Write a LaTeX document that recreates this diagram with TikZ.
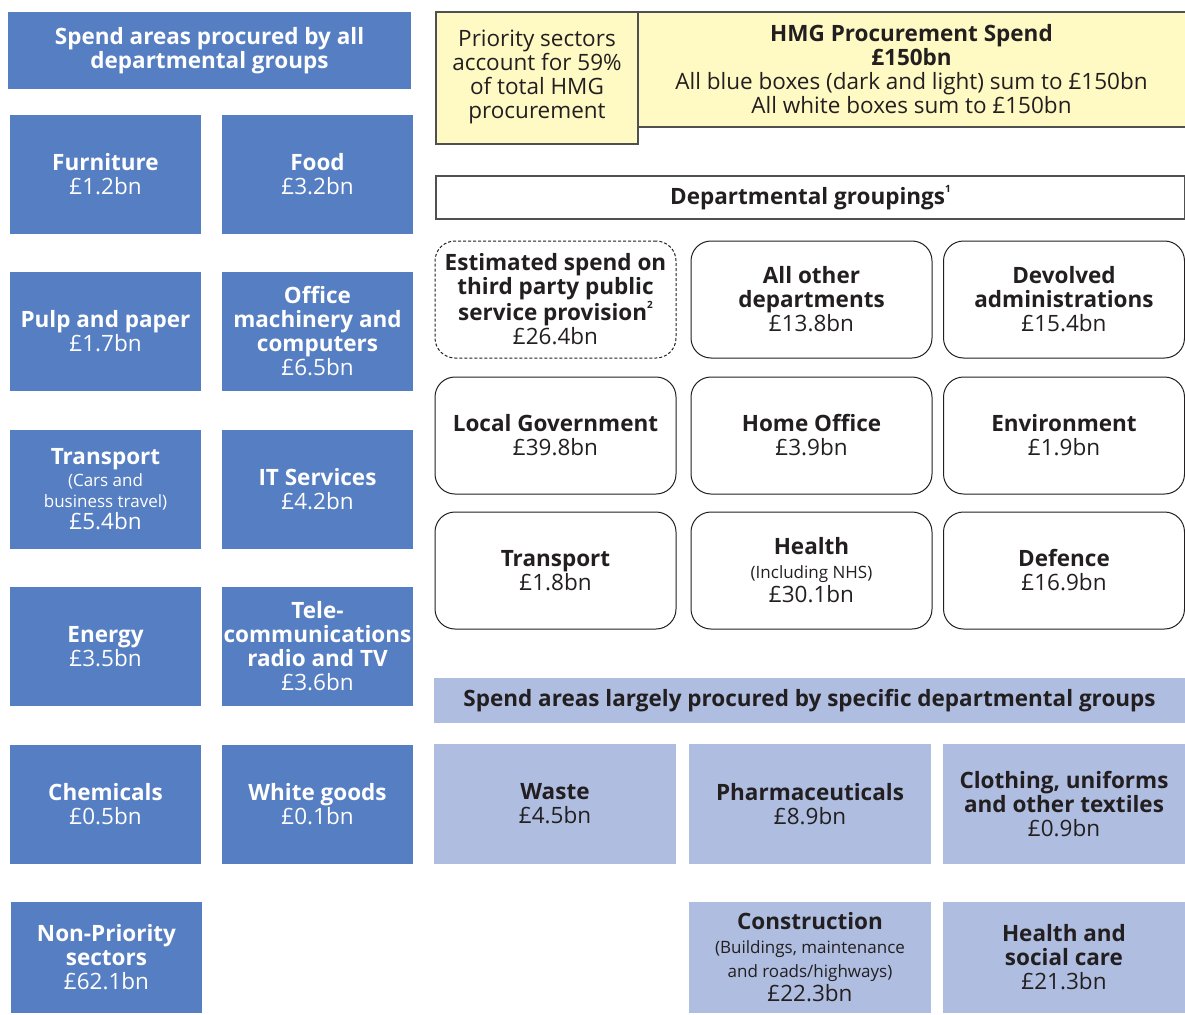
\documentclass[tikz,border=0pt]{standalone}
\usepackage{fontspec}
\setmainfont{Open Sans}
\usetikzlibrary{positioning}
\definecolor{dark-blue}{HTML}{567EC2}
\definecolor{light-blue}{HTML}{AEBDE0}
\definecolor{pale-yellow}{HTML}{FFF9C3}
\definecolor{ink}{HTML}{231F20}
\definecolor{rule-grey}{HTML}{505050}
\newcommand{\sz}{\fontsize{22.5}{24}\selectfont}
\newcommand{\smallsz}{\fontsize{17}{20}\selectfont}
\newcommand{\fnote}[1]{\raisebox{0.55em}{\fontsize{10}{10}\selectfont\textbf{#1}}}

\begin{document}
\begin{tikzpicture}[
  x=1pt, y=-1pt,
  box/.style={inner sep=0pt, align=center, font=\sz},
  darkbox/.style={box, fill=dark-blue, text=white,
    minimum width=191pt, minimum height=119pt},
  lightbox/.style={box, fill=light-blue, text=ink,
    minimum width=242pt, minimum height=120pt},
  deptbox/.style={box, draw=ink, line width=1pt, rounded corners=20pt,
    text=ink, minimum width=241pt, minimum height=117pt},
  dashbox/.style={deptbox, dash pattern=on 3pt off 2pt},
  headbox/.style={box, text=ink},
]
  \useasboundingbox (0,0) rectangle (1185,1014);

  % spend areas procured by all groups
  \node[box, fill=dark-blue, text=white, minimum width=403pt, minimum height=77pt]
    (allhead) at (209.5,50.5) {\textbf{Spend areas procured by all}\\\textbf{departmental groups}};
  \node[darkbox] (furn)  at (105.5,174.5) {\textbf{Furniture}\\£1.2bn};
  \node[darkbox] (food)  at (317.5,174.5) {\textbf{Food}\\£3.2bn};
  \node[darkbox] (pulp)  at (105.5,331.5) {\textbf{Pulp and paper}\\£1.7bn};
  \node[darkbox] (office) at (317.5,331.5) {\textbf{Office}\\\textbf{machinery and}\\\textbf{computers}\\£6.5bn};
  \node[darkbox] (trans) at (105.5,489.5) {\textbf{Transport}\\[-2pt]{\smallsz (Cars and}\\[-3pt]{\smallsz business travel)}\\[-2pt]£5.4bn};
  \node[darkbox] (itserv) at (317.5,489.5) {\textbf{IT Services}\\£4.2bn};
  \node[darkbox] (energy) at (105.5,646.5) {\textbf{Energy}\\£3.5bn};
  \node[darkbox] (telecom) at (317.5,646.5) {\textbf{Tele-}\\\textbf{communications}\\\textbf{radio and TV}\\£3.6bn};
  \node[darkbox] (chem)  at (105.5,804.5) {\textbf{Chemicals}\\£0.5bn};
  \node[darkbox] (white) at (317.5,804.5) {\textbf{White goods}\\£0.1bn};
  \node[darkbox, minimum height=111pt] (nonprio) at (106.5,957.5) {\textbf{Non-Priority}\\\textbf{sectors}\\£62.1bn};

  % HMG total
  \fill[pale-yellow] (436,12) -- (1185,12) -- (1185,127) -- (638,127)
    -- (638,144) -- (436,144) -- cycle;
  \draw[rule-grey, line width=1.5pt] (1185,12) -- (436,12) -- (436,144)
    -- (638,144) -- (638,12);
  \draw[rule-grey, line width=1.5pt] (638,127) -- (1185,127);
  \node[headbox] (prio) at (537,77) {Priority sectors\\account for 59\%\\of total HMG\\procurement};
  \node[headbox] (hmg) at (911.5,69) {\textbf{HMG Procurement Spend}\\\textbf{£150bn}\\All blue boxes (dark and light) sum to £150bn\\All white boxes sum to £150bn};

  % departmental groupings
  \node[box, draw=rule-grey, line width=1.5pt, text=ink, minimum width=749pt, minimum height=43pt]
    (depthead) at (810.5,197.5) {\textbf{Departmental groupings}\fnote{1}};
  \node[dashbox] (third) at (555.5,299.5) {\textbf{Estimated spend on}\\\textbf{third party public}\\\textbf{service provision}\fnote{2}\\£26.4bn};
  \node[deptbox] (other) at (811.5,299.5) {\textbf{All other}\\\textbf{departments}\\£13.8bn};
  \node[deptbox] (devolved) at (1064,299.5) {\textbf{Devolved}\\\textbf{administrations}\\£15.4bn};
  \node[deptbox] (localgov) at (555.5,435.5) {\textbf{Local Government}\\£39.8bn};
  \node[deptbox] (home) at (811.5,435.5) {\textbf{Home Office}\\£3.9bn};
  \node[deptbox] (env) at (1064,435.5) {\textbf{Environment}\\£1.9bn};
  \node[deptbox] (dtrans) at (555.5,570.5) {\textbf{Transport}\\£1.8bn};
  \node[deptbox] (health) at (811.5,570.5) {\textbf{Health}\\{\smallsz (Including NHS)}\\£30.1bn};
  \node[deptbox] (defence) at (1064,570.5) {\textbf{Defence}\\£16.9bn};

  % spend areas largely procured by specific groups
  \node[box, fill=light-blue, text=ink, minimum width=751pt, minimum height=45pt]
    (spechead) at (809.5,700.5) {\textbf{Spend areas largely procured by specific departmental groups}};
  \node[lightbox] (waste) at (555,804) {\textbf{Waste}\\£4.5bn};
  \node[lightbox] (pharma) at (810,804) {\textbf{Pharmaceuticals}\\£8.9bn};
  \node[lightbox] (cloth) at (1064,804) {\textbf{Clothing, uniforms}\\\textbf{and other textiles}\\£0.9bn};
  \node[lightbox, minimum height=111pt] (constr) at (810,957.5) {\textbf{Construction}\\{\smallsz (Buildings, maintenance}\\{\smallsz and roads/highways)}\\£22.3bn};
  \node[lightbox, minimum height=111pt] (hsc) at (1064,957.5) {\textbf{Health and}\\\textbf{social care}\\£21.3bn};
\end{tikzpicture}
\end{document}
